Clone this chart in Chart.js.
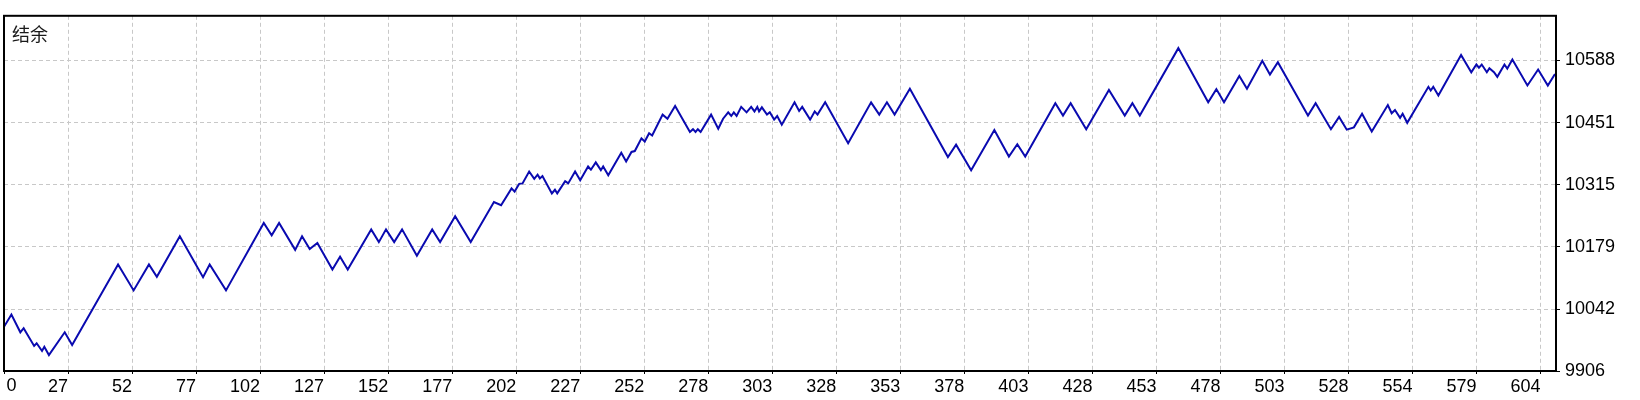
<!DOCTYPE html>
<html>
<head>
<meta charset="utf-8">
<script src="https://cdn.jsdelivr.net/npm/chart.js@4.4.1/dist/chart.umd.min.js"></script>
<style>
  html, body { margin: 0; padding: 0; background: #ffffff; }
  #wrap { width: 1640px; height: 400px; position: relative; }
</style>
</head>
<body>
<div id="wrap"><canvas id="c" width="1640" height="400"></canvas></div>
<script>
// ---- data ----
const seriesTitle = '结余';
const tradeNo = [0,2.9,6.4,7.7,11.8,12.8,14.9,15.8,17.6,23.8,
  26.7,44.7,50.8,56.8,59.9,68.9,78.0,80.6,87.0,101.8,
  104.9,107.8,114.1,116.8,119.8,122.8,128.7,131.7,134.7,143.9,
  146.9,149.7,152.9,156.0,161.8,167.8,170.9,176.8,182.9,192.0,
  194.8,198.9,200.1,201.9,203.2,205.8,207.8,209.1,210.0,211.0,
  214.7,215.9,216.8,219.9,221.1,223.8,225.8,228.9,230.0,231.9,
  233.9,234.8,236.8,241.9,243.8,245.9,247.2,249.8,251.1,252.8,
  254.0,258.1,260.0,263.0,268.8,270.0,271.0,271.9,273.0,277.1,
  279.9,281.8,283.8,285.0,286.0,287.1,288.9,291.0,292.8,294.1,
  295.2,295.9,297.0,299.0,300.1,301.8,303.0,304.8,309.8,311.6,
  312.8,315.9,317.7,318.8,321.8,330.8,339.8,343.0,346.0,349.0,
  355.0,369.9,373.1,379.0,388.1,393.8,397.1,400.2,412.0,415.0,
  418.0,424.1,433.0,439.2,442.2,445.1,460.2,471.9,475.1,478.1,
  484.1,487.1,493.1,496.1,499.2,511.0,514.0,520.0,523.2,526.2,
  529.0,532.2,536.0,542.3,543.8,545.1,547.1,548.1,549.9,558.2,
  559.1,560.1,562.1,571.0,575.0,577.0,578.0,579.1,581.1,582.1,
  583.9,585.2,588.0,589.1,591.1,597.0,601.2,605.0,607.8];
const balance = [10003,10030,9991,10000,9961,9967,9950,9959,9941,9991,
  9963,10140,10083,10140,10113,10202,10112,10140,10083,10231,
  10204,10231,10172,10202,10174,10187,10129,10157,10129,10217,
  10189,10217,10189,10217,10159,10217,10189,10246,10189,10277,
  10270,10307,10300,10317,10318,10344,10328,10337,10329,10334,
  10296,10304,10296,10323,10318,10344,10325,10355,10348,10364,
  10347,10355,10336,10385,10366,10387,10389,10417,10410,10428,
  10423,10469,10460,10488,10431,10437,10431,10437,10431,10469,
  10438,10460,10474,10466,10474,10466,10486,10474,10486,10476,
  10486,10476,10485,10469,10474,10458,10466,10447,10496,10477,
  10486,10458,10476,10469,10496,10406,10496,10469,10496,10469,
  10526,10376,10403,10347,10435,10377,10404,10377,10494,10467,
  10494,10437,10523,10467,10494,10467,10615,10496,10525,10496,
  10554,10526,10587,10557,10584,10467,10494,10437,10464,10436,
  10441,10471,10432,10490,10472,10479,10462,10471,10451,10530,
  10522,10530,10511,10600,10562,10579,10572,10579,10562,10571,
  10562,10552,10579,10570,10590,10533,10568,10533,10558];
const xTickLabels = ['0','27','52','77','102','127','152','177','202','227','252','278',
  '303','328','353','378','403','428','453','478','503','528','554','579','604'];
const yTickLabels = ['9906','10042','10179','10315','10451','10588'];
const xTickStep = 25.09;
const xMax = 608.2;
const yMin = 9906;
const yMax = 10686;

// ---- build chart ----
const points = tradeNo.map((t, i) => ({ x: t, y: balance[i] }));
const FONT = { family: "'Liberation Sans', Arial, sans-serif", size: 18 };

const framePlugin = {
  id: 'frame',
  afterDraw(chart) {
    const { ctx, chartArea: a } = chart;
    ctx.save();
    ctx.strokeStyle = '#000000';
    ctx.lineWidth = 2;
    ctx.strokeRect(a.left, a.top, a.right - a.left, a.bottom - a.top);
    // first x label is left-aligned at the axis start
    ctx.fillStyle = '#000000';
    ctx.font = FONT.size + 'px ' + FONT.family;
    ctx.textAlign = 'left';
    ctx.textBaseline = 'top';
    ctx.fillText(xTickLabels[0], a.left + 2.5, a.bottom + 6);
    // series title inside the plot area
    ctx.font = "18px 'Noto Sans CJK SC', sans-serif";
    ctx.fillStyle = '#1a1a1a';
    ctx.textBaseline = 'middle';
    ctx.fillText(seriesTitle, a.left + 8, a.top + 18);
    ctx.restore();
  }
};

new Chart(document.getElementById('c'), {
  type: 'line',
  data: {
    datasets: [{
      data: points,
      borderColor: '#0a0ab0',
      borderWidth: 2,
      pointRadius: 0,
      tension: 0,
      fill: false
    }]
  },
  options: {
    responsive: false,
    animation: false,
    layout: { padding: { left: 4, top: 5, right: 0, bottom: 0 } },
    plugins: { legend: { display: false }, tooltip: { enabled: false }, title: { display: false } },
    scales: {
      x: {
        type: 'linear',
        min: 0,
        max: xMax,
        afterBuildTicks(scale) {
          scale.ticks = xTickLabels.map((l, k) => ({ value: k * xTickStep, label: l }));
        },
        afterFit(scale) { scale.height = 29; },
        ticks: {
          autoSkip: false,
          maxRotation: 0,
          align: 'end',
          padding: 2,
          color: '#000000',
          font: FONT,
          callback(v, i) { return i === 0 ? '' : xTickLabels[i]; }
        },
        grid: {
          color: '#c8c8c8',
          lineWidth: 1,
          drawTicks: true,
          tickLength: 3,
          tickColor: '#000000',
          tickWidth: 1
        },
        border: { display: false, dash: [4, 3] }
      },
      y: {
        type: 'linear',
        position: 'right',
        min: yMin,
        max: yMax,
        afterBuildTicks(scale) {
          scale.ticks = yTickLabels.map(l => ({ value: Number(l), label: l }));
        },
        afterFit(scale) { scale.width = 84; },
        ticks: {
          autoSkip: false,
          padding: 5,
          color: '#000000',
          font: FONT,
          callback(v, i) { return yTickLabels[i]; }
        },
        grid: {
          color: '#c8c8c8',
          lineWidth: 1,
          drawTicks: true,
          tickLength: 4,
          tickColor: '#000000',
          tickWidth: 1
        },
        border: { display: false, dash: [4, 3] }
      }
    }
  },
  plugins: [framePlugin]
});
</script>
</body>
</html>
